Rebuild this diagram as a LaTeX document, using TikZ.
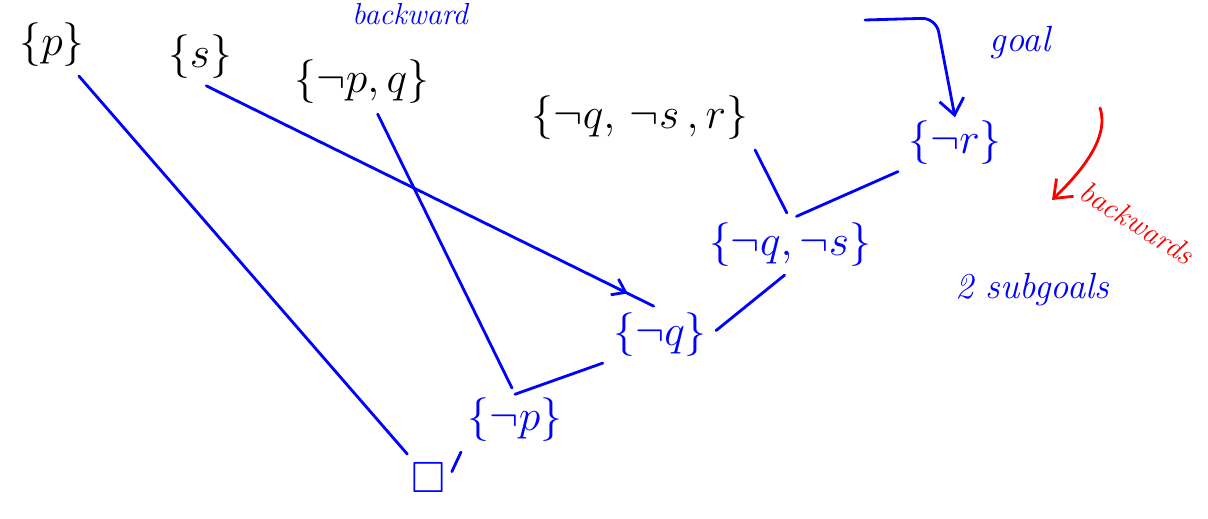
\documentclass[tikz,border=0pt]{standalone}
\usepackage{amssymb}
\usetikzlibrary{arrows.meta,decorations.markings}

\begin{document}
\begin{tikzpicture}[
    given/.style={inner sep=2pt, font=\Huge, text=black},
    derived/.style={inner sep=2pt, font=\Huge, text=blue},
    note/.style={font=\huge\itshape, text=blue},
    edge/.style={draw=blue, line width=1.6pt, line cap=round, shorten <=4pt, shorten >=4pt},
    arrow/.style={draw=blue, line width=1.6pt, line cap=round, -{Straight Barb[length=9pt,width=14pt]}},
    midarrow/.style={postaction={decorate}, decoration={markings,
        mark=at position 0.93 with {\arrow{Straight Barb[length=7pt,width=10pt]}}}}
]
    \useasboundingbox (0,0) rectangle (24.16,10.36);
    % starting clauses
    \node[given] (p) at (1.04,9.46) {$\{p\}$};
    \node[given] (s) at (4.0,9.22) {$\{s\}$};
    \node[given] (npq) at (7.24,8.72) {$\{\neg p,q\}$};
    \node[given] (nqnsr) at (12.8,8.0) {$\{\neg q,\,\neg s\,,r\}$};
    % backward steps
    \node[derived] (nr) at (19.1,7.5) {$\{\neg r\}$};
    \node[derived] (nqns) at (15.8,5.46) {$\{\neg q,\neg s\}$};
    \node[derived] (nq) at (13.2,3.66) {$\{\neg q\}$};
    \node[derived] (np) at (10.3,1.96) {$\{\neg p\}$};
    \node[derived] (empty) at (8.56,0.8) {$\Box$};
    % notes
    \node[note, font=\LARGE\itshape] (top) at (8.2,10.08) {backward};
    \node[note] (goal) at (20.4,9.5) {goal};
    \node[note, text=red, font=\LARGE\itshape, rotate=-32] (backw) at (22.75,5.9) {backwards};
    \node[note] (subgoals) at (20.64,4.56) {2 subgoals};
    \coordinate (gstart) at (17.3,9.96);
    \coordinate (gcorner) at (18.72,10.0);
    \coordinate (bstart) at (22.0,8.2);
    \coordinate (bend) at (21.04,6.36);

    \draw[edge] (p) -- (empty);
    \draw[edge, midarrow] (s.south) -- (nq.north);
    \draw[edge] (npq) -- (np.north);
    \draw[edge, shorten <=0pt] (np.north) -- (nq.south west);
    \draw[edge] (nq.east) -- (nqns.south);
    \draw[edge] (nqnsr.south east) -- (nqns.north);
    \draw[edge] (nr.south west) -- (nqns.north);
    \draw[edge] (np.south west) -- (empty.east);
    \draw[arrow, rounded corners=8pt] (gstart) -- (gcorner) -- (nr.north);
    \draw[arrow, draw=red] (bstart) .. controls (22.2,7.6) and (21.6,6.9) .. (bend);
\end{tikzpicture}
\end{document}
